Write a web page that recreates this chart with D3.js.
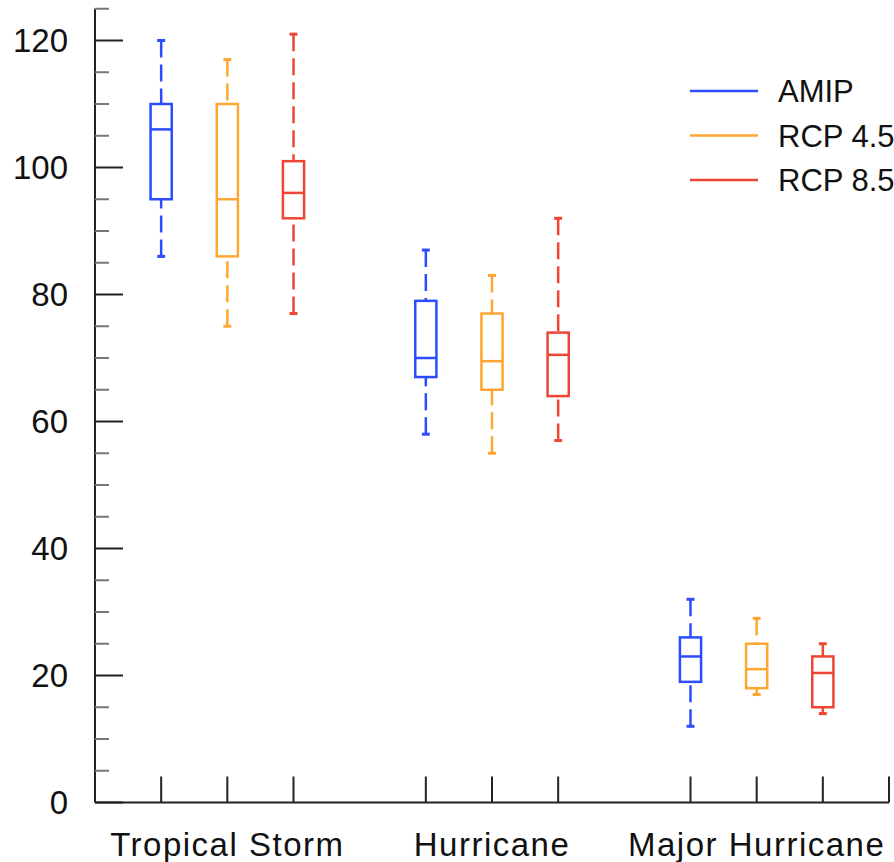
<!DOCTYPE html>
<html>
<head>
<meta charset="utf-8">
<script src="https://cdn.jsdelivr.net/npm/d3@7"></script>
<style>
  html, body { margin: 0; padding: 0; background: #fff; }
  svg { display: block; }
  text { font-family: "Liberation Sans", Arial, Helvetica, sans-serif; fill: #111; }
</style>
</head>
<body>
<svg id="chart" width="894" height="862"></svg>
<script>
// Storm categories and their slot centres on the x axis
const categories = ["Tropical Storm", "Hurricane", "Major Hurricane"];
const categoryCenters = [2, 6, 10];

// Experiments (one box per experiment in each category)
const series = ["AMIP", "RCP 4.5", "RCP 8.5"];
const seriesColors = ["#2b4cff", "#ffa632", "#ef4535"];

// Box statistics per experiment: [whisker low, Q1, median, Q3, whisker high]
// ordered as Tropical Storm, Hurricane, Major Hurricane
const amip = [
  [86, 95, 106, 110, 120],
  [58, 67, 70, 79, 87],
  [12, 19, 23, 26, 32]
];
const rcp45 = [
  [75, 86, 95, 110, 117],
  [55, 65, 69.5, 77, 83],
  [17, 18, 21, 25, 29]
];
const rcp85 = [
  [77, 92, 96, 101, 121],
  [57, 64, 70.5, 74, 92],
  [14, 15, 20.4, 23, 25]
];
const seriesValues = [amip, rcp45, rcp85];

// Axis ticks
const yMajorTicks = [0, 20, 40, 60, 80, 100, 120];
const yMinorTicks = [5, 10, 15, 25, 30, 35, 45, 50, 55, 65, 70, 75, 85, 90, 95, 105, 110, 115, 125];
const xTicks = [1, 2, 3, 5, 6, 7, 9, 10, 11, 12];

const svg = d3.select("#chart");

const x = d3.scaleLinear().domain([0, 12]).range([95, 889]);
const y = d3.scaleLinear().domain([0, 125]).range([802.5, 8.75]);

const axisColor = "#222";

// Left spine + ticks (drawn inward)
const yAxis = svg.append("g").attr("transform", `translate(${x(0)},0)`);
yAxis.append("line")
  .attr("x1", 0).attr("x2", 0)
  .attr("y1", y(125)).attr("y2", y(0))
  .attr("stroke", axisColor).attr("stroke-width", 2);
yAxis.selectAll("line.minor").data(yMinorTicks).join("line")
  .attr("class", "minor")
  .attr("x1", 0).attr("x2", 14)
  .attr("y1", d => y(d)).attr("y2", d => y(d))
  .attr("stroke", "#777").attr("stroke-width", 2);
yAxis.selectAll("line.major").data(yMajorTicks).join("line")
  .attr("class", "major")
  .attr("x1", 0).attr("x2", 28)
  .attr("y1", d => y(d)).attr("y2", d => y(d))
  .attr("stroke", axisColor).attr("stroke-width", 2);
yAxis.selectAll("text").data(yMajorTicks).join("text")
  .attr("x", -27)
  .attr("y", d => y(d))
  .attr("dy", "0.36em")
  .attr("text-anchor", "end")
  .attr("font-size", 33)
  .text(d => d);

// Bottom spine + upward ticks
const xAxis = svg.append("g").attr("transform", `translate(0,${y(0)})`);
xAxis.append("line")
  .attr("x1", x(0)).attr("x2", x(12))
  .attr("y1", 0).attr("y2", 0)
  .attr("stroke", axisColor).attr("stroke-width", 2);
xAxis.selectAll("line.tick").data(xTicks).join("line")
  .attr("class", "tick")
  .attr("x1", d => x(d)).attr("x2", d => x(d))
  .attr("y1", 0).attr("y2", -26)
  .attr("stroke", axisColor).attr("stroke-width", 2);
xAxis.selectAll("text").data(categories).join("text")
  .attr("x", (d, i) => x(categoryCenters[i]))
  .attr("y", 53)
  .attr("text-anchor", "middle")
  .attr("font-size", 33)
  .attr("letter-spacing", 1.5)
  .text(d => d);

// Box plots
const boxHalf = 0.16;   // half box width in x units
const capHalf = 0.06;   // half whisker-cap width in x units

series.forEach((name, si) => {
  const color = seriesColors[si];
  const g = svg.append("g").attr("class", "series");
  seriesValues[si].forEach((s, ci) => {
    const cx = categoryCenters[ci] - 1 + si;
    const [lo, q1, med, q3, hi] = s;
    // dashed whiskers, drawn from the cap toward the box
    g.append("line")
      .attr("x1", x(cx)).attr("x2", x(cx))
      .attr("y1", y(hi)).attr("y2", y(q3))
      .attr("stroke", color).attr("stroke-width", 2.5)
      .attr("stroke-dasharray", "17,7");
    g.append("line")
      .attr("x1", x(cx)).attr("x2", x(cx))
      .attr("y1", y(lo)).attr("y2", y(q1))
      .attr("stroke", color).attr("stroke-width", 2.5)
      .attr("stroke-dasharray", "17,7");
    // whisker caps
    [lo, hi].forEach(v => {
      g.append("line")
        .attr("x1", x(cx - capHalf)).attr("x2", x(cx + capHalf))
        .attr("y1", y(v)).attr("y2", y(v))
        .attr("stroke", color).attr("stroke-width", 3);
    });
    // box
    g.append("rect")
      .attr("x", x(cx - boxHalf))
      .attr("y", y(q3))
      .attr("width", x(cx + boxHalf) - x(cx - boxHalf))
      .attr("height", y(q1) - y(q3))
      .attr("fill", "#fff")
      .attr("stroke", color).attr("stroke-width", 2.5);
    // median
    g.append("line")
      .attr("x1", x(cx - boxHalf)).attr("x2", x(cx + boxHalf))
      .attr("y1", y(med)).attr("y2", y(med))
      .attr("stroke", color).attr("stroke-width", 2.5);
  });
});

// Legend
const legend = svg.append("g").attr("transform", "translate(690,91)");
series.forEach((name, i) => {
  const row = legend.append("g").attr("transform", `translate(0,${i * 44.5})`);
  row.append("line")
    .attr("x1", 0).attr("x2", 68)
    .attr("y1", 0).attr("y2", 0)
    .attr("stroke", seriesColors[i]).attr("stroke-width", 2.5);
  row.append("text")
    .attr("x", 88).attr("y", 0)
    .attr("dy", "0.36em")
    .attr("font-size", 31)
    .text(name);
});
</script>
</body>
</html>
